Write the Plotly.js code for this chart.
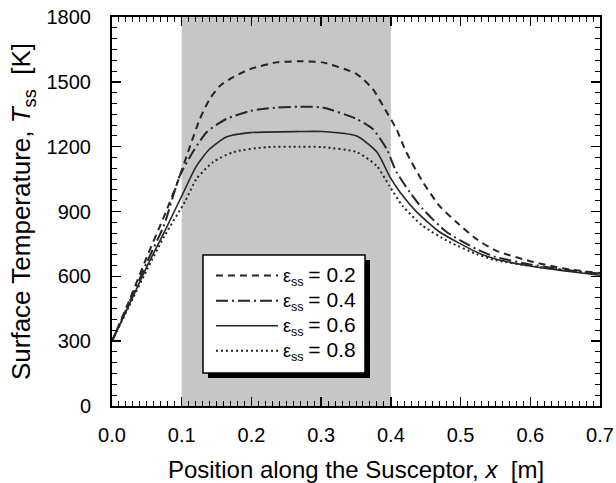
<!DOCTYPE html>
<html>
<head>
<meta charset="utf-8">
<script src="https://cdn.plot.ly/plotly-3.0.1.min.js"></script>
<style>html,body{margin:0;padding:0;background:#fff;}#chart{width:616px;height:483px;}</style>
</head>
<body>
<div id="chart"></div>
<script>
// Data
const x_e02 = [0, 0.025, 0.05, 0.075, 0.093, 0.1, 0.112, 0.126, 0.14, 0.155, 0.174, 0.198, 0.236, 0.269, 0.302, 0.351, 0.374, 0.394, 0.408, 0.422, 0.446, 0.47, 0.494, 0.523, 0.55, 0.6, 0.65, 0.7];
const T_e02 = [300, 490, 690, 880, 1027, 1090, 1203, 1328, 1420, 1482, 1522, 1559, 1590, 1595, 1590, 1536, 1467, 1360, 1282, 1175, 1036, 925, 851, 772, 720, 670, 635, 615];

const x_e04 = [0, 0.025, 0.05, 0.075, 0.097, 0.116, 0.136, 0.164, 0.198, 0.236, 0.269, 0.302, 0.351, 0.374, 0.394, 0.408, 0.427, 0.446, 0.48, 0.523, 0.55, 0.6, 0.65, 0.7];
const T_e04 = [300, 480, 665, 840, 1064, 1175, 1268, 1328, 1365, 1381, 1385, 1381, 1328, 1282, 1189, 1083, 990, 911, 805, 726, 690, 655, 630, 612];

const x_e06 = [0, 0.025, 0.05, 0.075, 0.102, 0.121, 0.14, 0.164, 0.198, 0.269, 0.302, 0.351, 0.38, 0.398, 0.413, 0.437, 0.47, 0.523, 0.55, 0.6, 0.65, 0.7];
const T_e06 = [300, 470, 645, 805, 985, 1110, 1189, 1245, 1265, 1270, 1270, 1249, 1175, 1064, 990, 898, 805, 712, 680, 648, 625, 605];

const x_e08 = [0, 0.025, 0.05, 0.075, 0.105, 0.121, 0.145, 0.174, 0.222, 0.269, 0.302, 0.351, 0.38, 0.398, 0.417, 0.446, 0.484, 0.523, 0.55, 0.6, 0.65, 0.7];
const T_e08 = [300, 465, 630, 785, 948, 1050, 1129, 1175, 1198, 1200, 1198, 1175, 1110, 1018, 925, 833, 759, 703, 675, 648, 628, 612];

const emissivities = ['0.2', '0.4', '0.6', '0.8'];
const shadedRange = [0.1, 0.4];
const xTickVals = [0, 0.1, 0.2, 0.3, 0.4, 0.5, 0.6, 0.7];
const xTickText = ['0.0', '0.1', '0.2', '0.3', '0.4', '0.5', '0.6', '0.7'];
const yTickVals = [0, 300, 600, 900, 1200, 1500, 1800];

const seriesNames = emissivities.map(e =>
  '<span style="font-size:18px">ε<sub>ss</sub></span> <span style="font-size:21px">= ' + e + '</span>');

const lineColor = '#262626';
const traces = [
  {x: x_e02, y: T_e02, name: seriesNames[0], line: {dash: '7px,5px', width: 2}},
  {x: x_e04, y: T_e04, name: seriesNames[1], line: {dash: '12px,4px,2px,4px', width: 2}},
  {x: x_e06, y: T_e06, name: seriesNames[2], line: {dash: 'solid', width: 1.6}},
  {x: x_e08, y: T_e08, name: seriesNames[3], line: {dash: '2px,3px', width: 2}}
].map(t => Object.assign({type: 'scatter', mode: 'lines'}, t,
  {line: Object.assign({color: lineColor, shape: 'spline', smoothing: 0.6}, t.line)}));

const font = {family: 'Liberation Sans, Arial, sans-serif', color: '#000'};
const axisCommon = {
  showgrid: false, zeroline: false, showline: true, linecolor: '#000', linewidth: 2,
  mirror: 'ticks', ticks: 'inside', ticklen: 9, tickwidth: 1.5, tickcolor: '#000',
  tickfont: {family: font.family, color: '#000', size: 20}
};

// plot area in pixels: l=112, t=17, w=488, h=389
const M = {l: 112, r: 16, t: 17, b: 77};
const W = 616, H = 483;
const pw = W - M.l - M.r, ph = H - M.t - M.b;
const px = p => (p - M.l) / pw;
const py = p => 1 - (p - M.t) / ph;
const legendBox = {l: 203, r: 365, t: 255, b: 373};
const shadowOff = 5;

const layout = {
  width: W, height: H,
  margin: M,
  paper_bgcolor: '#fff', plot_bgcolor: '#fff',
  font: font,
  showlegend: true,
  legend: {
    x: px(211), y: py(258), xanchor: 'left', yanchor: 'top',
    bgcolor: 'rgba(0,0,0,0)', borderwidth: 0,
    font: {family: font.family, color: '#000', size: 17}, itemwidth: 62, tracegroupgap: 0
  },
  xaxis: Object.assign({}, axisCommon, {
    range: [0, 0.7], tickvals: xTickVals, ticktext: xTickText,
    minor: {dtick: 0.01, ticklen: 5, tickwidth: 1, tickcolor: '#000', ticks: 'inside'},
    ticklabelstandoff: 10,
    title: {text: 'Position along the Susceptor, <i>x</i>\u00a0\u00a0[m]', font: {family: font.family, color: '#000', size: 24}, standoff: 16}
  }),
  yaxis: Object.assign({}, axisCommon, {
    range: [0, 1800], tickvals: yTickVals,
    minor: {dtick: 50, ticklen: 5, tickwidth: 1, tickcolor: '#000', ticks: 'inside'},
    ticklabelstandoff: 15,
    title: {text: 'Surface Temperature, <i>T</i><sub>ss</sub>\u00a0\u00a0[K]', font: {family: font.family, color: '#000', size: 26}, standoff: 8}
  }),
  shapes: [
    {type: 'rect', xref: 'x', yref: 'paper', x0: shadedRange[0], x1: shadedRange[1], y0: 0, y1: 1,
     fillcolor: '#c6c6c6', line: {width: 0}, layer: 'below'},
    {type: 'rect', xref: 'paper', yref: 'paper',
     x0: px(legendBox.l + shadowOff), x1: px(legendBox.r + shadowOff),
     y0: py(legendBox.b + shadowOff), y1: py(legendBox.t + shadowOff),
     fillcolor: '#000', line: {width: 0}, layer: 'above'},
    {type: 'rect', xref: 'paper', yref: 'paper',
     x0: px(legendBox.l), x1: px(legendBox.r),
     y0: py(legendBox.b), y1: py(legendBox.t),
     fillcolor: '#fff', line: {color: '#000', width: 1.5}, layer: 'above'}
  ]
};

Plotly.newPlot('chart', traces, layout, {displayModeBar: false, staticPlot: true});
</script>
</body>
</html>
